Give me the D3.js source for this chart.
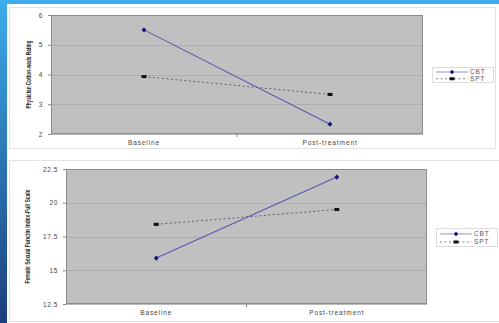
<!DOCTYPE html>
<html>
<head>
<meta charset="utf-8">
<script src="https://cdn.jsdelivr.net/npm/d3@7"></script>
<style>
  body { margin: 0; background: #fff; }
  svg text { font-family: "Liberation Sans", Arial, sans-serif; }
</style>
</head>
<body>
<svg id="chart" width="499" height="323"></svg>
<script>
const categories = ["Baseline", "Post-treatment"];
const seriesNames = ["CBT", "SPT"];

// chart 1: physician cotton-wads rating
const cottonCBT = [5.5, 2.33];
const cottonSPT = [3.93, 3.33];
const cottonTicks = [2, 3, 4, 5, 6];

// chart 2: FSFI full scale
const fsfiCBT = [15.9, 21.9];
const fsfiSPT = [18.4, 19.5];
const fsfiTicks = [12.5, 15, 17.5, 20, 22.5];

const svg = d3.select("svg#chart");

// slide background bits
const grad = svg.append("defs").append("linearGradient")
    .attr("id", "side").attr("x1", 0).attr("y1", 0).attr("x2", 0).attr("y2", 1);
grad.append("stop").attr("offset", "0%").attr("stop-color", "#3cacec");
grad.append("stop").attr("offset", "100%").attr("stop-color", "#1b3f7c");
svg.append("rect").attr("x", 0).attr("y", 0).attr("width", 499).attr("height", 4).attr("fill", "#3cacec");
svg.append("rect").attr("x", 0).attr("y", 0).attr("width", 7).attr("height", 323).attr("fill", "url(#side)");

function drawChart(c) {
    const g = svg.append("g");

    // outer frame
    g.append("rect")
        .attr("x", c.frame[0] + 0.5).attr("y", c.frame[1] + 0.5)
        .attr("width", c.frame[2]).attr("height", c.frame[3])
        .attr("fill", "#fff").attr("stroke", "#e2e2e2");

    // SCALES
    const xScale = d3.scaleBand()
        .domain(categories)
        .range([c.left, c.right]);

    const yScale = d3.scaleLinear()
        .domain(d3.extent(c.ticks))
        .range([c.bottom, c.top]);

    // plot area
    g.append("rect")
        .attr("x", c.left).attr("y", c.top)
        .attr("width", c.right - c.left).attr("height", c.bottom - c.top)
        .attr("fill", "#c0c0c0");

    // GRID
    g.append("g").selectAll("line")
        .data(c.ticks)
        .join("line")
        .attr("x1", c.left).attr("x2", c.right)
        .attr("y1", d => Math.round(yScale(d)) + 0.5)
        .attr("y2", d => Math.round(yScale(d)) + 0.5)
        .attr("stroke", "#aaaaaa").attr("stroke-width", 0.8);

    g.append("rect")
        .attr("x", c.left + 0.5).attr("y", c.top + 0.5)
        .attr("width", c.right - c.left - 1).attr("height", c.bottom - c.top - 1)
        .attr("fill", "none").attr("stroke", "#8c8c8c").attr("stroke-width", 1);

    // AXIS
    const yAxis = d3.axisLeft(yScale)
        .tickValues(c.ticks)
        .tickFormat(c.format)
        .tickSize(3).tickPadding(5);
    const ya = g.append("g").attr("transform", `translate(${c.left},0)`).call(yAxis);
    ya.select(".domain").remove();
    ya.selectAll("line").attr("stroke", "#888");
    ya.selectAll("text").attr("font-size", 6.5).attr("fill", "#444").attr("letter-spacing", 0.6);

    const xAxis = d3.axisBottom(xScale).tickSize(0).tickPadding(6);
    const xa = g.append("g").attr("transform", `translate(0,${c.bottom})`).call(xAxis);
    xa.select(".domain").remove();
    xa.selectAll("text").attr("font-size", 6.5).attr("fill", "#444").attr("letter-spacing", 0.9);

    // boundary tick between categories
    g.append("line")
        .attr("x1", xScale(categories[1])).attr("x2", xScale(categories[1]))
        .attr("y1", c.bottom).attr("y2", c.bottom + 3)
        .attr("stroke", "#888");

    // y title
    g.append("text")
        .attr("transform", `translate(${c.titleX},${(c.top + c.bottom) / 2}) rotate(-90)`)
        .attr("text-anchor", "middle")
        .attr("font-size", 7).attr("font-weight", "bold").attr("fill", "#222")
        .attr("textLength", c.titleLen).attr("lengthAdjust", "spacingAndGlyphs")
        .text(c.title);

    const cx = d => xScale(d) + xScale.bandwidth() / 2;
    const line = d3.line().x((d, i) => cx(categories[i])).y(d => yScale(d));

    // LINES
    g.append("path").datum(c.spt)
        .attr("d", line).attr("fill", "none")
        .attr("stroke", "#555").attr("stroke-width", 0.9).attr("stroke-dasharray", "2,2.5");
    g.append("path").datum(c.cbt)
        .attr("d", line).attr("fill", "none")
        .attr("stroke", "#5656b4").attr("stroke-width", 1.1);

    // MARKERS
    g.append("g").selectAll("rect")
        .data(c.spt)
        .join("rect")
        .attr("x", (d, i) => cx(categories[i]) - 2.5)
        .attr("y", d => yScale(d) - 1.5)
        .attr("width", 5).attr("height", 3)
        .attr("fill", "#111");
    g.append("g").selectAll("path")
        .data(c.cbt)
        .join("path")
        .attr("d", d3.symbol(d3.symbolDiamond, 12))
        .attr("transform", (d, i) => `translate(${cx(categories[i])},${yScale(d)}) scale(1.3,0.8)`)
        .attr("fill", "#141478");

    // LEGEND
    const lg = g.append("g").attr("transform", `translate(${c.legend[0]},${c.legend[1]})`);
    lg.append("rect")
        .attr("x", 0.5).attr("y", 0.5).attr("width", c.legend[2]).attr("height", c.legend[3])
        .attr("fill", "#fff").attr("stroke", "#dcdcdc");
    const rowY = [c.legend[3] * 0.3, c.legend[3] * 0.75];
    seriesNames.forEach((name, i) => {
        const y = rowY[i] + 0.5;
        lg.append("line")
            .attr("x1", 4).attr("x2", 36).attr("y1", y).attr("y2", y)
            .attr("stroke", i === 0 ? "#9a9ad8" : "#777")
            .attr("stroke-width", i === 0 ? 1.1 : 0.9)
            .attr("stroke-dasharray", i === 0 ? null : "2,2.5");
        if (i === 0) {
            lg.append("path")
                .attr("d", d3.symbol(d3.symbolDiamond, 10))
                .attr("transform", `translate(20,${y}) scale(1.3,0.8)`)
                .attr("fill", "#141478");
        } else {
            lg.append("rect").attr("x", 17.5).attr("y", y - 1.5)
                .attr("width", 5).attr("height", 3).attr("fill", "#111");
        }
        lg.append("text")
            .attr("x", 38).attr("y", y + 2.3)
            .attr("font-size", 6.5).attr("fill", "#555").attr("letter-spacing", 0.9)
            .text(name);
    });
}

drawChart({
    frame: [9, 7, 486, 141],
    left: 51, right: 423, top: 15, bottom: 134,
    ticks: cottonTicks, format: d3.format("d"),
    cbt: cottonCBT, spt: cottonSPT,
    title: "Physician Cotton-wads Rating", titleX: 31, titleLen: 68,
    legend: [432, 67, 61, 15]
});

drawChart({
    frame: [9, 160, 500, 161],
    left: 66, right: 427, top: 169, bottom: 304,
    ticks: fsfiTicks, format: d => d,
    cbt: fsfiCBT, spt: fsfiSPT,
    title: "Female Sexual Functin Index-Full Scale", titleX: 30, titleLen: 94,
    legend: [436, 228, 61, 18]
});
</script>
</body>
</html>
